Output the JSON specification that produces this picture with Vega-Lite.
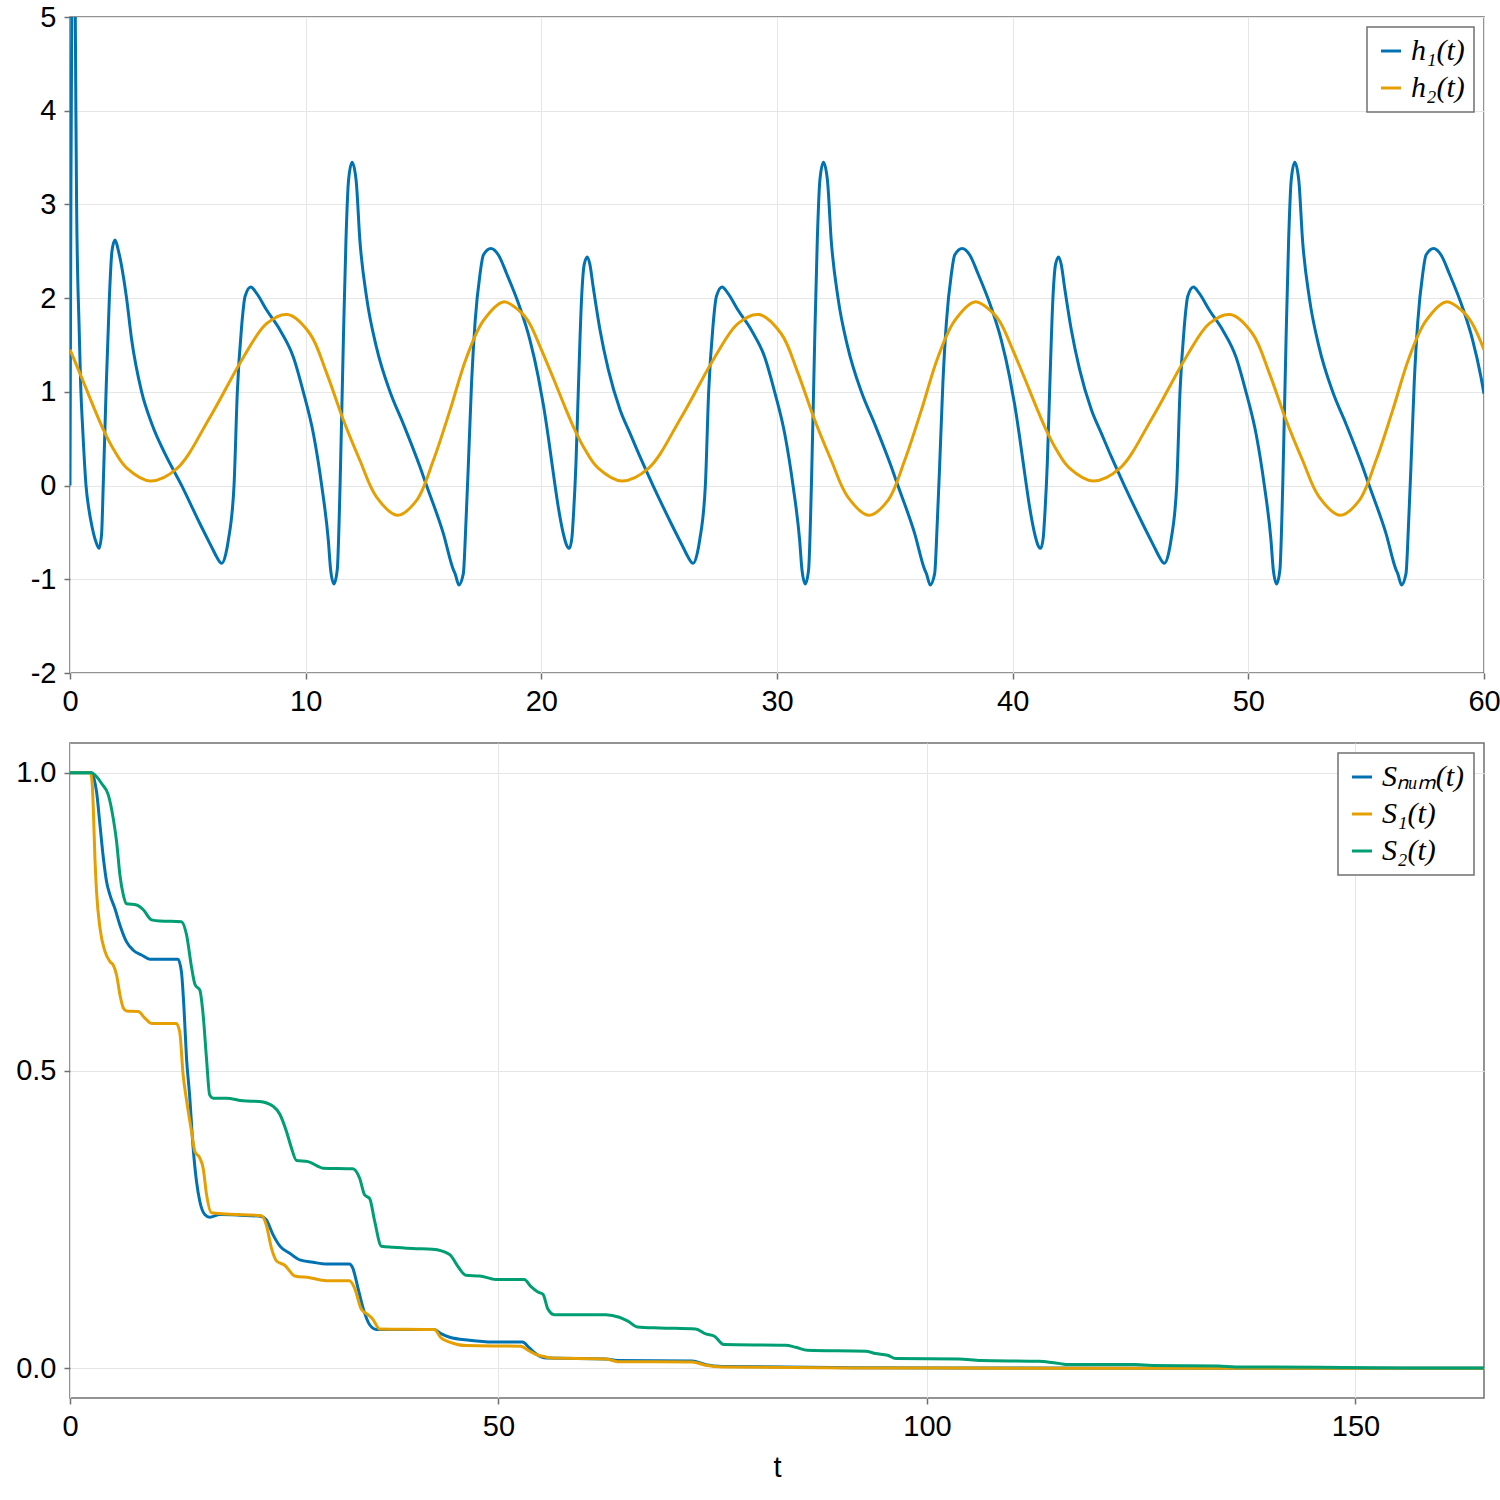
{
  "$schema": "https://vega.github.io/schema/vega-lite/v6.json",
  "background": "white",
  "padding": {"left": 14, "top": 2, "right": 0, "bottom": 0},
  "config": {
    "font": "Liberation Sans",
    "view": {"stroke": "#707070", "strokeWidth": 1.5},
    "axis": {
      "labelFont": "Liberation Sans",
      "labelFontSize": 29,
      "labelColor": "black",
      "labelPadding": 8,
      "labelFlush": false,
      "domain": false,
      "grid": true,
      "gridColor": "#e6e6e6",
      "gridWidth": 1,
      "tickColor": "#707070",
      "tickSize": 6,
      "tickWidth": 1.5,
      "titleFont": "Liberation Sans",
      "titleFontSize": 29,
      "titleFontWeight": "normal",
      "titleColor": "black"
    },
    "legend": {
      "orient": "top-right",
      "offset": 10,
      "strokeColor": "#707070",
      "strokeWidth": 1.5,
      "fillColor": "white",
      "padding": 9,
      "labelFont": "Liberation Serif",
      "labelFontStyle": "italic",
      "labelFontSize": 30,
      "labelColor": "black",
      "labelOffset": 5,
      "symbolType": "stroke",
      "symbolStrokeWidth": 3,
      "symbolSize": 400,
      "rowPadding": 7
    }
  },
  "datasets": {
    "h1": [
      {"t":0,"v":0},{"t":0.04,"v":3.2},{"t":0.09,"v":5.8},{"t":0.15,"v":6.8},{"t":0.21,"v":5.6},{"t":0.25,"v":4.0},{"t":0.28,"v":3.0},{"t":0.33,"v":2.2},{"t":0.38,"v":1.76},{"t":0.45,"v":1.1},{"t":0.55,"v":0.55},{"t":0.68,"v":0},{"t":0.8,"v":-0.25},{"t":0.92,"v":-0.42},{"t":1.1,"v":-0.6},{"t":1.23,"v":-0.67},{"t":1.34,"v":-0.52},{"t":1.41,"v":0},{"t":1.53,"v":1.0},{"t":1.67,"v":2.0},{"t":1.78,"v":2.5},{"t":1.91,"v":2.62},{"t":2.06,"v":2.5},{"t":2.4,"v":2.0},{"t":2.62,"v":1.55},{"t":3.04,"v":1.0},{"t":3.47,"v":0.66},{"t":4.03,"v":0.34},{"t":4.74,"v":0},{"t":5.52,"v":-0.41},{"t":6.08,"v":-0.69},{"t":6.22,"v":-0.76},{"t":6.44,"v":-0.83},{"t":6.61,"v":-0.73},{"t":6.72,"v":-0.58},{"t":6.96,"v":0},{"t":7.1,"v":1.0},{"t":7.28,"v":1.69},{"t":7.43,"v":2.02},{"t":7.67,"v":2.12},{"t":7.92,"v":2.05},{"t":8.35,"v":1.87},{"t":8.91,"v":1.66},{"t":9.48,"v":1.37},{"t":9.9,"v":1.0},{"t":10.33,"v":0.55},{"t":10.68,"v":0},{"t":10.96,"v":-0.58},{"t":11.06,"v":-0.9},{"t":11.2,"v":-1.05},{"t":11.34,"v":-0.9},{"t":11.46,"v":0},{"t":11.6,"v":1.55},{"t":11.71,"v":2.62},{"t":11.82,"v":3.26},{"t":11.97,"v":3.45},{"t":12.14,"v":3.26},{"t":12.3,"v":2.62},{"t":12.59,"v":2.0},{"t":13.0,"v":1.48},{"t":13.58,"v":1.0},{"t":14.14,"v":0.66},{"t":14.85,"v":0.2},{"t":15.13,"v":0},{"t":15.84,"v":-0.51},{"t":16.27,"v":-0.9},{"t":16.34,"v":-0.94},{"t":16.5,"v":-1.06},{"t":16.69,"v":-0.94},{"t":16.8,"v":-0.4},{"t":16.9,"v":0.2},{"t":17.04,"v":1.1},{"t":17.19,"v":1.75},{"t":17.4,"v":2.26},{"t":17.54,"v":2.46},{"t":17.86,"v":2.53},{"t":18.18,"v":2.46},{"t":18.53,"v":2.26},{"t":19.09,"v":1.9},{"t":19.52,"v":1.55},{"t":19.87,"v":1.16},
      {"t":20,"v":0.98},{"t":20.08,"v":0.87},{"t":20.3,"v":0.51},{"t":20.51,"v":0.13},{"t":20.72,"v":-0.23},{"t":20.93,"v":-0.51},{"t":21.08,"v":-0.64},{"t":21.19,"v":-0.67},{"t":21.3,"v":-0.55},{"t":21.36,"v":-0.33},{"t":21.47,"v":0.24},{"t":21.57,"v":1.02},{"t":21.71,"v":2.01},{"t":21.82,"v":2.36},{"t":21.95,"v":2.44},{"t":22.06,"v":2.36},{"t":22.2,"v":2.12},{"t":22.49,"v":1.66},{"t":22.84,"v":1.24},{"t":23.34,"v":0.81},{"t":23.76,"v":0.56},{"t":24.2,"v":0.3},{"t":24.74,"v":0},{"t":25.52,"v":-0.41},{"t":26.08,"v":-0.69},{"t":26.22,"v":-0.76},{"t":26.44,"v":-0.83},{"t":26.61,"v":-0.73},{"t":26.72,"v":-0.58},{"t":26.96,"v":0},{"t":27.1,"v":1.0},{"t":27.28,"v":1.69},{"t":27.43,"v":2.02},{"t":27.67,"v":2.12},{"t":27.92,"v":2.05},{"t":28.35,"v":1.87},{"t":28.91,"v":1.66},{"t":29.48,"v":1.37},{"t":29.9,"v":1.0},{"t":30.33,"v":0.55},{"t":30.68,"v":0},{"t":30.96,"v":-0.58},{"t":31.06,"v":-0.9},{"t":31.2,"v":-1.05},{"t":31.34,"v":-0.9},{"t":31.46,"v":0},{"t":31.6,"v":1.55},{"t":31.71,"v":2.62},{"t":31.82,"v":3.26},{"t":31.97,"v":3.45},{"t":32.14,"v":3.26},{"t":32.3,"v":2.62},{"t":32.59,"v":2.0},{"t":33.0,"v":1.48},{"t":33.58,"v":1.0},{"t":34.14,"v":0.66},{"t":34.85,"v":0.2},{"t":35.13,"v":0},{"t":35.84,"v":-0.51},{"t":36.27,"v":-0.9},{"t":36.34,"v":-0.94},{"t":36.5,"v":-1.06},{"t":36.69,"v":-0.94},{"t":36.8,"v":-0.4},{"t":36.9,"v":0.2},{"t":37.04,"v":1.1},{"t":37.19,"v":1.75},{"t":37.4,"v":2.26},{"t":37.54,"v":2.46},{"t":37.86,"v":2.53},{"t":38.18,"v":2.46},{"t":38.53,"v":2.26},{"t":39.09,"v":1.9},{"t":39.52,"v":1.55},{"t":39.87,"v":1.16},
      {"t":40,"v":0.98},{"t":40.08,"v":0.87},{"t":40.3,"v":0.51},{"t":40.51,"v":0.13},{"t":40.72,"v":-0.23},{"t":40.93,"v":-0.51},{"t":41.08,"v":-0.64},{"t":41.19,"v":-0.67},{"t":41.3,"v":-0.55},{"t":41.36,"v":-0.33},{"t":41.47,"v":0.24},{"t":41.57,"v":1.02},{"t":41.71,"v":2.01},{"t":41.82,"v":2.36},{"t":41.95,"v":2.44},{"t":42.06,"v":2.36},{"t":42.2,"v":2.12},{"t":42.49,"v":1.66},{"t":42.84,"v":1.24},{"t":43.34,"v":0.81},{"t":43.76,"v":0.56},{"t":44.2,"v":0.3},{"t":44.74,"v":0},{"t":45.52,"v":-0.41},{"t":46.08,"v":-0.69},{"t":46.22,"v":-0.76},{"t":46.44,"v":-0.83},{"t":46.61,"v":-0.73},{"t":46.72,"v":-0.58},{"t":46.96,"v":0},{"t":47.1,"v":1.0},{"t":47.28,"v":1.69},{"t":47.43,"v":2.02},{"t":47.67,"v":2.12},{"t":47.92,"v":2.05},{"t":48.35,"v":1.87},{"t":48.91,"v":1.66},{"t":49.48,"v":1.37},{"t":49.9,"v":1.0},{"t":50.33,"v":0.55},{"t":50.68,"v":0},{"t":50.96,"v":-0.58},{"t":51.06,"v":-0.9},{"t":51.2,"v":-1.05},{"t":51.34,"v":-0.9},{"t":51.46,"v":0},{"t":51.6,"v":1.55},{"t":51.71,"v":2.62},{"t":51.82,"v":3.26},{"t":51.97,"v":3.45},{"t":52.14,"v":3.26},{"t":52.3,"v":2.62},{"t":52.59,"v":2.0},{"t":53.0,"v":1.48},{"t":53.58,"v":1.0},{"t":54.14,"v":0.66},{"t":54.85,"v":0.2},{"t":55.13,"v":0},{"t":55.84,"v":-0.51},{"t":56.27,"v":-0.9},{"t":56.34,"v":-0.94},{"t":56.5,"v":-1.06},{"t":56.69,"v":-0.94},{"t":56.8,"v":-0.4},{"t":56.9,"v":0.2},{"t":57.04,"v":1.1},{"t":57.19,"v":1.75},{"t":57.4,"v":2.26},{"t":57.54,"v":2.46},{"t":57.86,"v":2.53},{"t":58.18,"v":2.46},{"t":58.53,"v":2.26},{"t":59.09,"v":1.9},{"t":59.52,"v":1.55},{"t":59.87,"v":1.16},{"t":60,"v":0.98}
    ],
    "h2": [
      {"t":0,"v":1.45},{"t":0.5,"v":1.15},{"t":1.0,"v":0.84},{"t":1.41,"v":0.6},{"t":1.84,"v":0.39},{"t":2.4,"v":0.19},{"t":3.42,"v":0.05},{"t":4.53,"v":0.18},{"t":5.94,"v":0.73},{"t":7.36,"v":1.37},{"t":8.35,"v":1.73},{"t":9.24,"v":1.825},{"t":10.18,"v":1.62},{"t":10.89,"v":1.2},{"t":11.6,"v":0.7},{"t":12.3,"v":0.27},{"t":13.0,"v":-0.12},{"t":13.89,"v":-0.317},{"t":14.7,"v":-0.16},{"t":15.42,"v":0.27},{"t":16.12,"v":0.8},{"t":16.83,"v":1.37},{"t":17.54,"v":1.76},{"t":18.39,"v":1.96},{"t":19.09,"v":1.86},{"t":19.5,"v":1.73},
      {"t":20,"v":1.45},{"t":20.5,"v":1.15},{"t":21.0,"v":0.84},{"t":21.41,"v":0.6},{"t":21.84,"v":0.39},{"t":22.4,"v":0.19},{"t":23.42,"v":0.05},{"t":24.53,"v":0.18},{"t":25.94,"v":0.73},{"t":27.36,"v":1.37},{"t":28.35,"v":1.73},{"t":29.24,"v":1.825},{"t":30.18,"v":1.62},{"t":30.89,"v":1.2},{"t":31.6,"v":0.7},{"t":32.3,"v":0.27},{"t":33.0,"v":-0.12},{"t":33.89,"v":-0.317},{"t":34.7,"v":-0.16},{"t":35.42,"v":0.27},{"t":36.12,"v":0.8},{"t":36.83,"v":1.37},{"t":37.54,"v":1.76},{"t":38.39,"v":1.96},{"t":39.09,"v":1.86},{"t":39.5,"v":1.73},
      {"t":40,"v":1.45},{"t":40.5,"v":1.15},{"t":41.0,"v":0.84},{"t":41.41,"v":0.6},{"t":41.84,"v":0.39},{"t":42.4,"v":0.19},{"t":43.42,"v":0.05},{"t":44.53,"v":0.18},{"t":45.94,"v":0.73},{"t":47.36,"v":1.37},{"t":48.35,"v":1.73},{"t":49.24,"v":1.825},{"t":50.18,"v":1.62},{"t":50.89,"v":1.2},{"t":51.6,"v":0.7},{"t":52.3,"v":0.27},{"t":53.0,"v":-0.12},{"t":53.89,"v":-0.317},{"t":54.7,"v":-0.16},{"t":55.42,"v":0.27},{"t":56.12,"v":0.8},{"t":56.83,"v":1.37},{"t":57.54,"v":1.76},{"t":58.39,"v":1.96},{"t":59.09,"v":1.86},{"t":59.5,"v":1.73},{"t":60,"v":1.45}
    ],
    "snum": [
      {"t":0,"v":1},{"t":2.5,"v":1},{"t":2.8,"v":0.99},{"t":3.1,"v":0.968},{"t":3.5,"v":0.912},{"t":3.9,"v":0.856},{"t":4.27,"v":0.817},{"t":4.66,"v":0.795},{"t":5.24,"v":0.772},{"t":5.83,"v":0.744},{"t":6.6,"v":0.716},{"t":7.38,"v":0.702},{"t":8.35,"v":0.694},{"t":9.32,"v":0.687},{"t":12.6,"v":0.687},{"t":13.0,"v":0.666},{"t":13.3,"v":0.605},{"t":13.6,"v":0.52},{"t":13.95,"v":0.46},{"t":14.37,"v":0.37},{"t":14.76,"v":0.314},{"t":15.15,"v":0.28},{"t":15.73,"v":0.258},{"t":16.3,"v":0.2534},{"t":17.48,"v":0.258},{"t":19.8,"v":0.257},{"t":22.34,"v":0.255},{"t":22.9,"v":0.2494},{"t":23.7,"v":0.224},{"t":24.5,"v":0.205},{"t":25.64,"v":0.193},{"t":26.8,"v":0.182},{"t":28.36,"v":0.178},{"t":29.9,"v":0.175},{"t":32.6,"v":0.175},{"t":33.0,"v":0.168},{"t":33.6,"v":0.135},{"t":34.2,"v":0.101},{"t":34.97,"v":0.073},{"t":35.75,"v":0.065},{"t":42.5,"v":0.065},{"t":43.3,"v":0.058},{"t":44.3,"v":0.052},{"t":46.6,"v":0.047},{"t":49.3,"v":0.044},{"t":52.8,"v":0.044},{"t":53.6,"v":0.034},{"t":54.4,"v":0.024},{"t":55.6,"v":0.017},{"t":62.55,"v":0.0157},{"t":63.9,"v":0.013},{"t":72.6,"v":0.012},{"t":74.2,"v":0.006},{"t":76.1,"v":0.003},{"t":91.2,"v":0.001},{"t":110,"v":0.0002},{"t":165,"v":0}
    ],
    "s1": [
      {"t":0,"v":1},{"t":2.41,"v":1},{"t":2.6,"v":0.98},{"t":2.72,"v":0.94},{"t":2.91,"v":0.856},{"t":3.1,"v":0.8},{"t":3.5,"v":0.739},{"t":4.08,"v":0.7},{"t":4.66,"v":0.683},{"t":5.05,"v":0.677},{"t":5.44,"v":0.66},{"t":5.83,"v":0.627},{"t":6.22,"v":0.605},{"t":6.6,"v":0.6},{"t":7.96,"v":0.599},{"t":8.74,"v":0.588},{"t":9.52,"v":0.579},{"t":12.4,"v":0.579},{"t":12.8,"v":0.565},{"t":13.2,"v":0.493},{"t":13.6,"v":0.45},{"t":14.18,"v":0.398},{"t":14.57,"v":0.364},{"t":15.15,"v":0.353},{"t":15.54,"v":0.336},{"t":15.93,"v":0.292},{"t":16.5,"v":0.261},{"t":18.26,"v":0.259},{"t":22.34,"v":0.256},{"t":22.9,"v":0.241},{"t":23.5,"v":0.202},{"t":24.1,"v":0.18},{"t":25.06,"v":0.173},{"t":26.22,"v":0.155},{"t":27.97,"v":0.152},{"t":29.9,"v":0.147},{"t":32.6,"v":0.147},{"t":33.2,"v":0.135},{"t":34.0,"v":0.099},{"t":34.77,"v":0.09},{"t":35.35,"v":0.082},{"t":36.13,"v":0.066},{"t":42.5,"v":0.065},{"t":43.3,"v":0.051},{"t":44.3,"v":0.044},{"t":46.2,"v":0.038},{"t":52.6,"v":0.037},{"t":53.6,"v":0.029},{"t":54.6,"v":0.022},{"t":55.2,"v":0.02},{"t":56.1,"v":0.017},{"t":62.55,"v":0.0157},{"t":63.9,"v":0.011},{"t":72.6,"v":0.0105},{"t":74.2,"v":0.005},{"t":76.1,"v":0.002},{"t":91.2,"v":0.0005},{"t":110,"v":0.0001},{"t":165,"v":0}
    ],
    "s2": [
      {"t":0,"v":1},{"t":2.53,"v":1},{"t":3.0,"v":0.995},{"t":3.69,"v":0.982},{"t":4.47,"v":0.963},{"t":5.05,"v":0.923},{"t":5.44,"v":0.884},{"t":5.83,"v":0.828},{"t":6.22,"v":0.795},{"t":6.6,"v":0.78},{"t":7.77,"v":0.778},{"t":8.55,"v":0.77},{"t":9.52,"v":0.753},{"t":10.5,"v":0.751},{"t":13.0,"v":0.75},{"t":13.6,"v":0.728},{"t":14.2,"v":0.672},{"t":14.6,"v":0.644},{"t":15.15,"v":0.635},{"t":15.54,"v":0.593},{"t":15.93,"v":0.52},{"t":16.3,"v":0.459},{"t":16.7,"v":0.4536},{"t":18.26,"v":0.4536},{"t":20.2,"v":0.449},{"t":22.1,"v":0.448},{"t":23.7,"v":0.44},{"t":24.5,"v":0.426},{"t":25.25,"v":0.398},{"t":25.84,"v":0.37},{"t":26.42,"v":0.349},{"t":27.78,"v":0.347},{"t":29.53,"v":0.336},{"t":33.0,"v":0.335},{"t":33.8,"v":0.319},{"t":34.38,"v":0.291},{"t":34.97,"v":0.285},{"t":35.55,"v":0.247},{"t":36.33,"v":0.205},{"t":37.7,"v":0.203},{"t":40.0,"v":0.201},{"t":42.3,"v":0.2},{"t":44.3,"v":0.191},{"t":45.26,"v":0.171},{"t":46.2,"v":0.156},{"t":47.8,"v":0.155},{"t":49.7,"v":0.149},{"t":53.0,"v":0.149},{"t":53.8,"v":0.137},{"t":54.6,"v":0.128},{"t":55.2,"v":0.124},{"t":55.75,"v":0.1},{"t":56.5,"v":0.09},{"t":62.55,"v":0.09},{"t":64.1,"v":0.0856},{"t":65.1,"v":0.079},{"t":66.2,"v":0.0694},{"t":68.8,"v":0.0677},{"t":73.0,"v":0.066},{"t":74.2,"v":0.0576},{"t":75.2,"v":0.0537},{"t":76.3,"v":0.0397},{"t":83.5,"v":0.0386},{"t":84.7,"v":0.0352},{"t":86.05,"v":0.0302},{"t":92.85,"v":0.0285},{"t":94.0,"v":0.0246},{"t":95.4,"v":0.0218},{"t":96.35,"v":0.0162},{"t":103.7,"v":0.0157},{"t":106.3,"v":0.0129},{"t":113.05,"v":0.0117},{"t":114.6,"v":0.0095},{"t":115.8,"v":0.0072},{"t":116.35,"v":0.0061},{"t":124.3,"v":0.0061},{"t":126.3,"v":0.0045},{"t":134.0,"v":0.0039},{"t":136.0,"v":0.0022},{"t":145.7,"v":0.0017},{"t":155.8,"v":0.0005},{"t":165,"v":0.0002}
    ]
  },
  "vconcat": [
    {
      "width": 1414,
      "height": 656,
      "layer": [
        {
          "data": {"name": "h1"},
          "mark": {"type": "line", "strokeWidth": 3, "interpolate": "monotone", "clip": true},
          "encoding": {
            "x": {
              "field": "t",
              "type": "quantitative",
              "scale": {"domain": [0, 60], "nice": false, "zero": false},
              "axis": {"values": [0, 10, 20, 30, 40, 50, 60], "title": null}
            },
            "y": {
              "field": "v",
              "type": "quantitative",
              "scale": {"domain": [-2, 5], "nice": false},
              "axis": {"values": [-2, -1, 0, 1, 2, 3, 4, 5], "title": null, "labelExpr": "'' + datum.value"}
            },
            "color": {
              "datum": "h₁(t)",
              "type": "nominal",
              "scale": {"domain": ["h₁(t)", "h₂(t)"], "range": ["#0072b2", "#e69f00"]},
              "legend": {"title": null}
            }
          }
        },
        {
          "data": {"name": "h2"},
          "mark": {"type": "line", "strokeWidth": 3, "interpolate": "catmull-rom", "clip": true},
          "encoding": {
            "x": {"field": "t", "type": "quantitative"},
            "y": {"field": "v", "type": "quantitative"},
            "color": {"datum": "h₂(t)", "type": "nominal"}
          }
        }
      ]
    },
    {
      "width": 1414,
      "height": 655,
      "layer": [
        {
          "data": {"name": "snum"},
          "mark": {"type": "line", "strokeWidth": 3, "interpolate": "monotone", "clip": true},
          "encoding": {
            "x": {
              "field": "t",
              "type": "quantitative",
              "scale": {"domain": [0, 165], "nice": false, "zero": false},
              "axis": {"values": [0, 50, 100, 150], "title": "t", "titlePadding": 12}
            },
            "y": {
              "field": "v",
              "type": "quantitative",
              "scale": {"domain": [-0.05, 1.05], "nice": false, "zero": false},
              "axis": {"values": [0, 0.5, 1], "format": ".1f", "title": null}
            },
            "color": {
              "datum": "Sₙᵤₘ(t)",
              "type": "nominal",
              "scale": {"domain": ["Sₙᵤₘ(t)", "S₁(t)", "S₂(t)"], "range": ["#0072b2", "#e69f00", "#009e73"]},
              "legend": {"title": null}
            }
          }
        },
        {
          "data": {"name": "s1"},
          "mark": {"type": "line", "strokeWidth": 3, "interpolate": "monotone", "clip": true},
          "encoding": {
            "x": {"field": "t", "type": "quantitative"},
            "y": {"field": "v", "type": "quantitative"},
            "color": {"datum": "S₁(t)", "type": "nominal"}
          }
        },
        {
          "data": {"name": "s2"},
          "mark": {"type": "line", "strokeWidth": 3, "interpolate": "monotone", "clip": true},
          "encoding": {
            "x": {"field": "t", "type": "quantitative"},
            "y": {"field": "v", "type": "quantitative"},
            "color": {"datum": "S₂(t)", "type": "nominal"}
          }
        }
      ]
    }
  ],
  "resolve": {"scale": {"color": "independent"}, "legend": {"color": "independent"}},
  "spacing": 25
}
